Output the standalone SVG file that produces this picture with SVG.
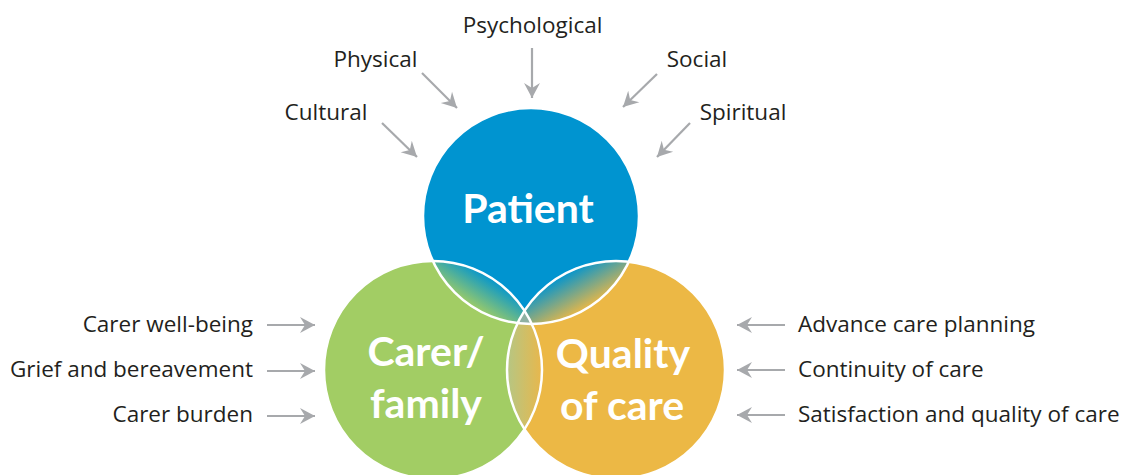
<svg xmlns="http://www.w3.org/2000/svg" width="1123" height="475" viewBox="0 0 1123 475">
<style>
.lbl{font-family:"Open Sans","Noto Sans",sans-serif;font-size:22.5px;fill:#231F20}
.big{font-family:Lato,"Open Sans",sans-serif;font-weight:bold;font-size:41px;fill:#fff;text-anchor:middle}
.arr{stroke:#A7A9AC;stroke-width:2.2;fill:none;marker-end:url(#ah)}
.ring{fill:none;stroke:#fff;stroke-width:2.5}
</style>
<defs>
<marker id="ah" viewBox="-15 -9 17 18" refX="0" refY="0" markerWidth="17" markerHeight="18" markerUnits="userSpaceOnUse" orient="auto">
<path d="M0,0 L-15,-8 L-10,0 L-15,8 Z" fill="#A7A9AC"/>
</marker>
<clipPath id="clipP"><circle cx="531" cy="216" r="108"/></clipPath>
<clipPath id="clipC"><circle cx="433" cy="370" r="109"/></clipPath>
<linearGradient id="gPC" gradientUnits="userSpaceOnUse" x1="472" y1="308" x2="492" y2="277">
<stop offset="0" stop-color="#A2CD64"/><stop offset="1" stop-color="#0094D0"/>
</linearGradient>
<linearGradient id="gPQ" gradientUnits="userSpaceOnUse" x1="563" y1="274" x2="584" y2="311">
<stop offset="0" stop-color="#0094D0"/><stop offset="1" stop-color="#ECB845"/>
</linearGradient>
<linearGradient id="gCQ" gradientUnits="userSpaceOnUse" x1="508" y1="0" x2="542" y2="0">
<stop offset="0" stop-color="#B7C682"/><stop offset="1" stop-color="#E8B74C"/>
</linearGradient>
</defs>

<g id="patient">
<circle cx="531" cy="216" r="108" fill="#0094D0"/>
</g>
<g id="carer-family">
<circle cx="433" cy="370" r="109" fill="#A2CD64"/>
</g>
<g id="quality-of-care">
<circle cx="616" cy="370" r="109" fill="#ECB845"/>
</g>
<g id="overlaps">
<circle cx="433" cy="370" r="109" fill="url(#gPC)" clip-path="url(#clipP)"/>
<circle cx="616" cy="370" r="109" fill="url(#gPQ)" clip-path="url(#clipP)"/>
<circle cx="616" cy="370" r="109" fill="url(#gCQ)" clip-path="url(#clipC)"/>
<g clip-path="url(#clipC)"><circle cx="616" cy="370" r="109" fill="#8FB1A2" clip-path="url(#clipP)"/></g>
<circle class="ring" cx="531" cy="216" r="108"/>
<circle class="ring" cx="433" cy="370" r="109"/>
<circle class="ring" cx="616" cy="370" r="109"/>
</g>
<g id="circle-labels">
<text class="big" x="528" y="223">Patient</text>
<text class="big" x="426" y="366">Carer/</text>
<text class="big" x="426" y="418">family</text>
<text class="big" x="623" y="368">Quality</text>
<text class="big" x="622" y="420">of care</text>
</g>

<g id="connectors">
<line class="arr" x1="532" y1="48" x2="532" y2="98"/>
<line class="arr" x1="422" y1="73" x2="457" y2="108"/>
<line class="arr" x1="382" y1="123" x2="417" y2="157"/>
<line class="arr" x1="657" y1="74" x2="623" y2="107"/>
<line class="arr" x1="690" y1="123" x2="657" y2="157"/>
<line class="arr" x1="267" y1="325" x2="315" y2="325"/>
<line class="arr" x1="267" y1="371" x2="315" y2="371"/>
<line class="arr" x1="267" y1="416" x2="315" y2="416"/>
<line class="arr" x1="785" y1="325" x2="737" y2="325"/>
<line class="arr" x1="785" y1="370" x2="737" y2="370"/>
<line class="arr" x1="785" y1="415" x2="737" y2="415"/>
</g>

<g id="labels">
<text class="lbl" x="532.5" y="33" text-anchor="middle">Psychological</text>
<text class="lbl" x="375.5" y="67" text-anchor="middle">Physical</text>
<text class="lbl" x="697" y="67" text-anchor="middle">Social</text>
<text class="lbl" x="326" y="120" text-anchor="middle">Cultural</text>
<text class="lbl" x="743" y="120" text-anchor="middle">Spiritual</text>
<text class="lbl" x="253" y="332" text-anchor="end">Carer well-being</text>
<text class="lbl" x="253" y="377" text-anchor="end">Grief and bereavement</text>
<text class="lbl" x="253" y="422" text-anchor="end">Carer burden</text>
<text class="lbl" x="798" y="332">Advance care planning</text>
<text class="lbl" x="798" y="377">Continuity of care</text>
<text class="lbl" x="798" y="422">Satisfaction and quality of care</text>
</g>
</svg>
